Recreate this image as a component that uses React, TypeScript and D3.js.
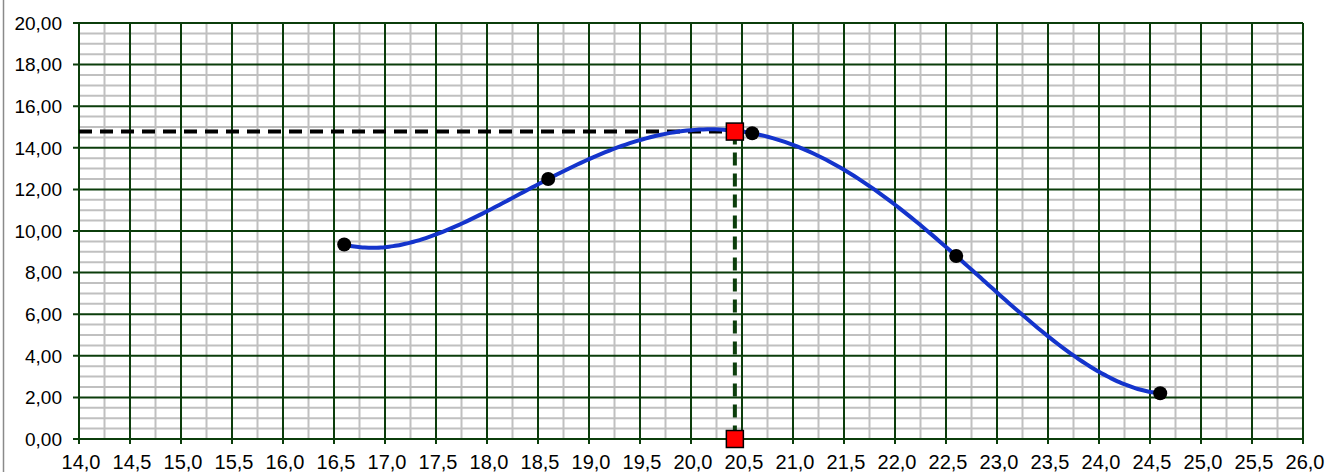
import React from 'react'
import * as d3 from 'd3'

// measured points
const xValues = [16.6, 18.6, 20.6, 22.6, 24.6]
const yValues = [9.35, 12.5, 14.7, 8.8, 2.2]

// maximum
const peakX = 20.43
const peakY = 14.78

const xTicks = d3.range(14, 26.001, 0.5)
const yTicks = d3.range(0, 20.001, 2)

const W = 1337
const H = 472
const margin = { top: 23, right: 34, bottom: 33, left: 79 }

const fmtX = (v: number) => v.toFixed(1).replace('.', ',')
const fmtY = (v: number) => v.toFixed(2).replace('.', ',')

// 4th order polynomial trendline through the 5 points (lagrange form)
const trend = (t: number) => {
  let s = 0
  for (let i = 0; i < xValues.length; i++) {
    let l = 1
    for (let j = 0; j < xValues.length; j++) {
      if (j !== i) l *= (t - xValues[j]) / (xValues[i] - xValues[j])
    }
    s += yValues[i] * l
  }
  return s
}

const App: React.FC = () => {
  const x = d3.scaleLinear().domain([14, 26]).range([margin.left, W - margin.right])
  const y = d3.scaleLinear().domain([0, 20]).range([H - margin.bottom, margin.top])

  const minorX = d3.range(14.25, 26, 0.5)
  const minorY = d3.range(0.5, 20, 0.5).filter(v => Math.abs(v % 2) > 1e-6)

  const xMin = d3.min(xValues)!
  const xMax = d3.max(xValues)!
  const curvePts: [number, number][] = d3.range(0, 201)
    .map(i => xMin + (xMax - xMin) * i / 200)
    .map(t => [t, trend(t)])

  const line = d3.line<[number, number]>()
    .x(d => x(d[0]))
    .y(d => y(d[1]))
    .curve(d3.curveMonotoneX)

  const [x0, x1] = x.range()
  const [y0, y1] = y.range()

  return (
    <svg width={W} height={H} style={{ position: 'absolute', left: 0, top: 0, background: '#fff' }}
      fontFamily="'Liberation Sans', Arial, sans-serif">
      <line x1={3.5} x2={3.5} y1={0} y2={H} stroke="#8a8a8a" strokeWidth={1.5} />

      {/* minor grid */}
      {minorX.map(v => (
        <line key={'mx' + v} x1={x(v)} x2={x(v)} y1={y1} y2={y0} stroke="#c0c0c0" strokeWidth={2} />
      ))}
      {minorY.map(v => (
        <line key={'my' + v} x1={x0} x2={x1} y1={y(v)} y2={y(v)} stroke="#c0c0c0" strokeWidth={2} />
      ))}

      {/* major grid */}
      {xTicks.map(v => (
        <line key={'gx' + v} x1={x(v)} x2={x(v)} y1={y1} y2={y0 + 5} stroke="#0b3d0b" strokeWidth={2} />
      ))}
      {yTicks.map(v => (
        <line key={'gy' + v} x1={x0 - 6} x2={x1} y1={y(v)} y2={y(v)} stroke="#0b3d0b" strokeWidth={2} />
      ))}

      {/* axis labels */}
      {yTicks.map(v => (
        <text key={'ty' + v} x={62} y={y(v)} dy="0.36em" textAnchor="end" fontSize={19} fill="#000">
          {fmtY(v)}
        </text>
      ))}
      {xTicks.map(v => (
        <text key={'tx' + v} x={x(v) + 2} y={469} textAnchor="middle" fontSize={20} fill="#000">
          {fmtX(v)}
        </text>
      ))}

      {/* reading lines */}
      <line x1={x0} x2={x(peakX)} y1={y(peakY)} y2={y(peakY)} stroke="#000" strokeWidth={4}
        strokeDasharray="13 8" />
      <line x1={x(peakX)} x2={x(peakX)} y1={y(peakY)} y2={y(0)} stroke="#0b3d0b" strokeWidth={4}
        strokeDasharray="13 8" />

      <path d={line(curvePts) ?? ''} fill="none" stroke="#1434cc" strokeWidth={4} />

      {xValues.map((v, i) => (
        <circle key={'p' + i} cx={x(v)} cy={y(yValues[i])} r={7} fill="#000" />
      ))}

      {[peakY, 0].map((v, i) => (
        <rect key={'r' + i} x={x(peakX) - 8.5} y={y(v) - 8.5} width={17} height={17}
          fill="#ff0000" stroke="#000" strokeWidth={1.5} />
      ))}
    </svg>
  )
}

export default App
